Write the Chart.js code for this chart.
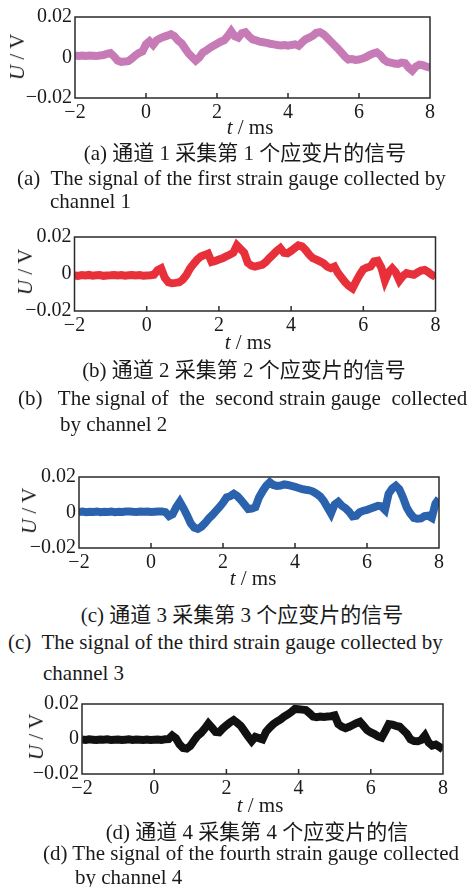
<!DOCTYPE html>
<html>
<head>
<meta charset="utf-8">
<script src="https://cdn.jsdelivr.net/npm/chart.js@4/dist/chart.umd.min.js"></script>
<style>
  html, body { margin: 0; padding: 0; background: #fff; }
  #page { position: relative; width: 471px; height: 887px; overflow: hidden;
    font-family: "Liberation Serif", "Noto Sans CJK SC", serif; color: #1a1a1a; }
  canvas { position: absolute; left: 0; }
  .txt { position: absolute; font-size: 21px; line-height: 24px; white-space: pre; }
  .ylab { position: absolute; font-size: 21px; line-height: 24px; white-space: pre;
    transform: translate(-50%, -50%) rotate(-90deg); }
  .mid { transform: translateX(-50%); }
</style>
</head>
<body>
<div id="page"></div>
<script>
// sample times, ms (0.1 ms grid)
const times = Array.from({ length: 101 }, (_, i) => Math.round((-2 + i * 0.1) * 10) / 10);

// signal values, V
const channel1 = [
  0.001, 0.0008, 0.001, 0.0008, 0.001, 0.0009, 0.0007, 0.001, 0.0012, 0.0018,
  0.0022, 0.0005, -0.0015, -0.0022, -0.002, -0.0018, -0.0005, 0.001, 0.0022, 0.003,
  0.0065, 0.008, 0.0062, 0.0085, 0.0095, 0.0102, 0.0108, 0.0115, 0.0105, 0.0085,
  0.007, 0.0045, 0.002, 0.0002, -0.0015, 0.0, 0.0025, 0.0035, 0.0048, 0.0058,
  0.0068, 0.0078, 0.0085, 0.0105, 0.013, 0.0105, 0.0098, 0.012, 0.0125, 0.0105,
  0.009, 0.0085, 0.0078, 0.0075, 0.0072, 0.0068, 0.0065, 0.0062, 0.006, 0.0062,
  0.0058, 0.0062, 0.0065, 0.0058, 0.0075, 0.009, 0.0098, 0.0108, 0.0122, 0.0125,
  0.0115, 0.0098, 0.008, 0.0062, 0.0045, 0.0025, 0.0005, -0.001, -0.0008, -0.0012,
  -0.001, -0.0005, 0.0002, 0.0012, 0.002, 0.0025, 0.0012, -0.001, -0.0022, -0.0025,
  -0.003, -0.0032, -0.0025, -0.0028, -0.005, -0.0065, -0.0045, -0.0035, -0.0038, -0.0045,
  -0.005
];
const channel2 = [
  -0.0008, -0.001, -0.0006, -0.0008, -0.0005, -0.0009, -0.0007, -0.0006, -0.001, -0.0008,
  -0.0007, -0.0005, -0.0008, -0.0006, -0.0009, -0.0007, -0.0005, -0.0008, -0.0006, -0.0009,
  -0.0008, -0.0007, -0.0004, 0.002, 0.003, -0.002, -0.0045, -0.005, -0.0048, -0.0045,
  -0.003, -0.0005, 0.003, 0.0055, 0.0078, 0.0095, 0.0102, 0.011, 0.0065, 0.007,
  0.0078, 0.0085, 0.0095, 0.0104, 0.0115, 0.0155, 0.0135, 0.0115, 0.006, 0.0045,
  0.004, 0.0045, 0.005, 0.0065, 0.0086, 0.0105, 0.0125, 0.014, 0.0115, 0.0112,
  0.0125, 0.014, 0.0155, 0.015, 0.013, 0.0105, 0.0086, 0.0078, 0.0068, 0.0058,
  0.004, 0.0032, 0.004, 0.0005, -0.002, -0.0045, -0.0065, -0.0078, -0.004, -0.0005,
  0.0025, 0.0035, 0.004, 0.0068, 0.0072, 0.0035, -0.0035, 0.001, 0.003, 0.0008,
  -0.0035, -0.001, 0.0005, 0.0, -0.0004, 0.0008, 0.0018, 0.0022, 0.001, -0.0005,
  -0.0015
];
const channel3 = [
  0.0003, 0.0005, 0.0002, 0.0004, 0.0003, 0.0006, 0.0002, 0.0004, 0.0003, 0.0005,
  0.0002, 0.0004, 0.0003, 0.0005, 0.0006, 0.0004, 0.0003, 0.0005, 0.0004, 0.0006,
  0.0003, 0.0004, 0.0005, 0.0006, 0.0002, -0.002, -0.001, 0.003, 0.006, 0.0025,
  -0.0015, -0.006, -0.0085, -0.0092, -0.008, -0.006, -0.0035, -0.0015, 0.0008, 0.003,
  0.0055, 0.0085, 0.0092, 0.0105, 0.0092, 0.007, 0.0045, 0.002, 0.0022, 0.003,
  0.0085, 0.012, 0.015, 0.017, 0.0155, 0.015, 0.0152, 0.0158, 0.0155, 0.015,
  0.0145, 0.0138, 0.0132, 0.0128, 0.0125, 0.0118, 0.0105, 0.009, 0.0065, 0.003,
  -0.0005, 0.0045, 0.006, 0.0038, 0.0025, 0.0005, -0.0022, -0.0018, 0.0002, 0.001,
  0.0015, 0.0022, 0.003, 0.0038, 0.0035, 0.0015, 0.0105, 0.0135, 0.015, 0.013,
  0.0085, 0.003, -0.0005, -0.003, -0.0035, -0.0033, -0.002, -0.0018, -0.003, 0.005,
  0.0078
];
const channel4 = [
  -0.0003, -0.0005, -0.0002, -0.0004, -0.0006, -0.0003, -0.0004, -0.0002, -0.0005, -0.0004,
  -0.0003, -0.0006, -0.0004, -0.0002, -0.0005, -0.0003, -0.0004, -0.0006, -0.0003, -0.0005,
  -0.0004, -0.0003, -0.0005, -0.0002, -0.0001, 0.002, 0.0005, -0.003, -0.0052, -0.0055,
  -0.004, -0.001, 0.0018, 0.0035, 0.006, 0.0088, 0.0065, 0.004, 0.0038, 0.006,
  0.0078, 0.0095, 0.0108, 0.0092, 0.0075, 0.0045, 0.0015, -0.0012, 0.0012, 0.0005,
  -0.0002, 0.0042, 0.0065, 0.0085, 0.01, 0.0112, 0.0128, 0.014, 0.0155, 0.0172,
  0.017, 0.0168, 0.0165, 0.0148, 0.0128, 0.0125, 0.0128, 0.0126, 0.0128, 0.013,
  0.0135, 0.0085, 0.007, 0.0062, 0.007, 0.008, 0.009, 0.0098, 0.0075, 0.005,
  0.0038, 0.0028, 0.0015, 0.0008, 0.0045, 0.0085, 0.0082, 0.0075, 0.007, 0.005,
  0.003, -0.0002, -0.0012, -0.0013, -0.0005, 0.002, -0.002, -0.0038, -0.0032, -0.0045,
  -0.006
];

const xTicks = [-2, 0, 2, 4, 6, 8];
const yTicks = [-0.02, 0, 0.02];

const captionsZh = [
  "(a) 通道 1 采集第 1 个应变片的信号",
  "(b) 通道 2 采集第 2 个应变片的信号",
  "(c) 通道 3 采集第 3 个应变片的信号",
  "(d) 通道 4 采集第 4 个应变片的信"
];
const captionsEn = [
  ["(a)  The signal of the first strain gauge collected by", "channel 1"],
  ["(b)   The signal of  the  second strain gauge  collected", "by channel 2"],
  ["(c)  The signal of the third strain gauge collected by", "channel 3"],
  ["(d) The signal of the fourth strain gauge collected", "by channel 4"]
];

const panels = [
  { data: channel1, color: "#c67ab6", left: 75, right: 430, top: 16, bottom: 98,
    ylab: [17, 57], xlab: [250, 127], zh: [245, 153], en: [[17, 178], [50, 201]] },
  { data: channel2, color: "#e8303a", left: 74.5, right: 435.5, top: 236, bottom: 311,
    ylab: [25, 272], xlab: [248, 342], zh: [244, 370], en: [[18, 398], [60, 424]] },
  { data: channel3, color: "#2b62ae", left: 79, right: 439, top: 476, bottom: 548,
    ylab: [29, 511], xlab: [253, 578], zh: [242, 615], en: [[8, 642], [43, 673]] },
  { data: channel4, color: "#111111", left: 82, right: 443, top: 703, bottom: 774,
    ylab: [36, 737], xlab: [260, 805], zh: [257, 832], en: [[43, 853], [75, 877]] }
];

const page = document.getElementById("page");
const font = { family: "'Liberation Serif', serif", size: 20 };
const Y_W = 70, X_H = 28, PAD_T = 14;

const frame = {
  id: "frame",
  afterDatasetsDraw(chart) {
    const { ctx, chartArea: a, scales: { x } } = chart;
    ctx.save();
    ctx.strokeStyle = "#2a2a2a";
    ctx.lineWidth = 1.5;
    ctx.strokeRect(a.left, a.top, a.width, a.height);
    xTicks.slice(1, -1).forEach(v => {
      const px = x.getPixelForValue(v);
      ctx.beginPath();
      ctx.moveTo(px, a.bottom);
      ctx.lineTo(px, a.bottom - 5);
      ctx.stroke();
    });
    ctx.restore();
  }
};

function addText(cls, html, x, y) {
  const el = document.createElement("div");
  el.className = cls;
  el.innerHTML = html;
  el.style.left = x + "px";
  el.style.top = (cls === "ylab" ? y : y - 12) + "px";
  page.appendChild(el);
}

function fmt(v) {
  const r = Math.round(v * 1000) / 1000;
  if (r === 0) return "0";
  return (r < 0 ? "\u2212" : "") + Math.abs(r).toFixed(2);
}

panels.forEach((p, i) => {
  const canvas = document.createElement("canvas");
  const h = PAD_T + (p.bottom - p.top) + X_H;
  canvas.width = 471;
  canvas.height = h;
  canvas.style.top = (p.top - PAD_T) + "px";
  page.appendChild(canvas);

  new Chart(canvas, {
    type: "line",
    data: {
      datasets: [{
        data: times.map((t, k) => ({ x: t, y: p.data[k] })),
        borderColor: p.color,
        borderWidth: 8,
        pointRadius: 0,
        tension: 0,
        borderJoinStyle: "miter"
      }]
    },
    options: {
      responsive: false,
      animation: false,
      events: [],
      layout: { padding: { left: p.left - Y_W, right: 471 - p.right, top: PAD_T, bottom: 0 } },
      plugins: { legend: { display: false }, tooltip: { enabled: false } },
      scales: {
        x: {
          type: "linear", min: -2, max: 8,
          afterFit: s => { s.height = X_H; },
          afterBuildTicks: s => { s.ticks = xTicks.map(v => ({ value: v })); },
          grid: { display: false, drawTicks: false },
          border: { display: false },
          ticks: { font, color: "#1a1a1a", padding: 3, maxRotation: 0,
            callback: v => (v < 0 ? "\u2212" : "") + Math.abs(v) }
        },
        y: {
          type: "linear", min: -0.02, max: 0.02,
          afterFit: s => { s.width = Y_W; },
          afterBuildTicks: s => { s.ticks = yTicks.map(v => ({ value: v })); },
          grid: { display: false, drawTicks: false },
          border: { display: false },
          ticks: { font, color: "#1a1a1a", padding: 3, callback: v => fmt(v) }
        }
      }
    },
    plugins: [frame]
  });

  addText("ylab", "<i>U</i> / V", p.ylab[0], p.ylab[1]);
  addText("txt mid", "<i>t</i> / ms", p.xlab[0], p.xlab[1]);
  addText("txt mid", captionsZh[i], p.zh[0], p.zh[1]);
  addText("txt", captionsEn[i][0], p.en[0][0], p.en[0][1]);
  addText("txt", captionsEn[i][1], p.en[1][0], p.en[1][1]);
});
</script>
</body>
</html>
